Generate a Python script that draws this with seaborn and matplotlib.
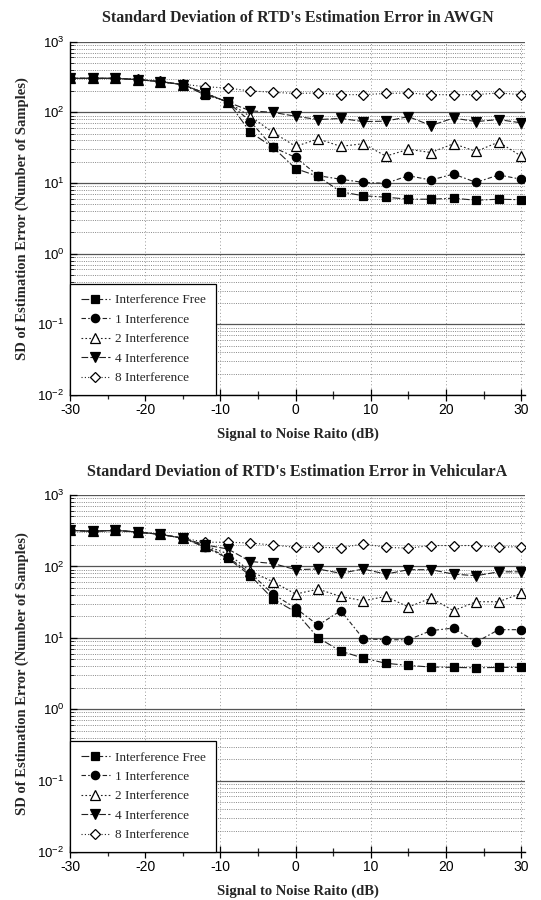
import numpy as np
import pandas as pd
import matplotlib
matplotlib.use("Agg")
import matplotlib.pyplot as plt
import seaborn as sns
from matplotlib.ticker import LogLocator, MultipleLocator, NullFormatter

snr = [-30, -27, -24, -21, -18, -15, -12, -9, -6, -3, 0, 3, 6, 9, 12, 15, 18, 21, 24, 27, 30]

series_names = ["Interference Free", "1 Interference", "2 Interference",
                "4 Interference", "8 Interference"]

# AWGN
awgn_free = [303, 303, 303, 290, 272, 246, 176, 142, 52, 32, 16, 12.4, 7.5, 6.6, 6.3, 5.9, 5.9, 6.1, 5.7, 5.9, 5.8]
awgn_1 = [303, 303, 303, 290, 272, 246, 186, 139, 74, 32, 23, 12.7, 11.3, 10.2, 9.9, 12.7, 11.0, 13.4, 10.2, 13.0, 11.3]
awgn_2 = [303, 303, 303, 290, 272, 246, 186, 139, 87, 52, 33, 42, 33, 36, 24, 30, 27, 36, 28, 38, 24]
awgn_4 = [303, 303, 303, 290, 272, 246, 186, 139, 105, 100, 88, 79, 82, 74, 75, 87, 65, 83, 74, 79, 71]
awgn_8 = [303, 303, 303, 295, 275, 249, 231, 220, 201, 192, 185, 188, 178, 178, 185, 188, 178, 178, 178, 188, 178]

# VehicularA
veh_free = [320, 310, 320, 303, 281, 249, 185, 130, 74, 35, 23, 10, 6.5, 5.2, 4.4, 4.1, 3.9, 3.85, 3.8, 3.85, 3.85]
veh_1 = [320, 310, 320, 303, 281, 249, 190, 134, 80, 41, 26, 15, 24, 9.7, 9.4, 9.4, 12.6, 13.7, 8.7, 13.0, 13.0]
veh_2 = [320, 310, 320, 303, 281, 249, 195, 150, 85, 61, 41, 48, 38, 33, 38, 27, 36, 24, 32, 32, 42]
veh_4 = [320, 310, 320, 303, 281, 249, 200, 175, 117, 110, 90, 92, 80, 92, 78, 90, 90, 78, 74, 84, 84]
veh_8 = [320, 310, 320, 303, 281, 249, 218, 218, 213, 199, 185, 185, 182, 207, 185, 180, 196, 196, 196, 185, 190]

titles = ["Standard Deviation of RTD's Estimation Error in AWGN",
          "Standard Deviation of RTD's Estimation Error in VehicularA"]
xlabel = "Signal to Noise Raito (dB)"
ylabel = "SD of Estimation Error (Number of Samples)"

sns.set_theme(style="white")
plt.rcParams['font.family'] = ['Liberation Sans', 'DejaVu Sans']
plt.rcParams['mathtext.fontset'] = 'custom'
plt.rcParams['mathtext.rm'] = 'Liberation Sans'
plt.rcParams['axes.unicode_minus'] = False

styles = {
    "Interference Free": dict(marker="s", ls=(0, (7, 2, 1.5, 2)), mfc="black", ms=6),
    "1 Interference": dict(marker="o", ls=(0, (4, 2, 1.5, 2)), mfc="black", ms=6),
    "2 Interference": dict(marker="^", ls=(0, (1.5, 2)), mfc="white", ms=6.5),
    "4 Interference": dict(marker="v", ls=(0, (6, 2)), mfc="black", ms=6.5),
    "8 Interference": dict(marker="D", ls=(0, (1, 2)), mfc="white", ms=5.5),
}

fig = plt.figure(figsize=(5.41, 9.0), dpi=100)
axes_pos = [[0.1294, 0.5611, 0.841, 0.3926], [0.1294, 0.0533, 0.841, 0.3967]]
datasets = [[awgn_free, awgn_1, awgn_2, awgn_4, awgn_8],
            [veh_free, veh_1, veh_2, veh_4, veh_8]]

serif = ['Liberation Serif', 'DejaVu Serif']

for pos, data, title in zip(axes_pos, datasets, titles):
    ax = fig.add_axes(pos)
    frames = []
    for name, vals in zip(series_names, data):
        frames.append(pd.DataFrame({"snr": snr, "sd": vals, "series": name}))
    df = pd.concat(frames, ignore_index=True)
    for name in series_names[::-1]:
        st = styles[name]
        sub = df[df["series"] == name]
        sns.lineplot(data=sub, x="snr", y="sd", ax=ax, color="#222222",
                     linewidth=0.8, linestyle=st["ls"], marker=st["marker"],
                     markersize=st["ms"], markerfacecolor=st["mfc"],
                     markeredgecolor="black", markeredgewidth=0.9,
                     label=name, zorder=3)
    ax.set_yscale("log")
    ax.set_ylim(1e-2, 1e3)
    ax.set_xlim(-30, 30.5)
    ax.xaxis.set_major_locator(MultipleLocator(10))
    ax.xaxis.set_minor_locator(MultipleLocator(5))
    ax.yaxis.set_major_locator(LogLocator(base=10, numticks=10))
    ax.yaxis.set_minor_locator(LogLocator(base=10, subs=np.arange(2, 10), numticks=50))
    ax.yaxis.set_minor_formatter(NullFormatter())

    # grid
    ax.grid(False)
    ax.yaxis.grid(True, which="major", color="#555555", linewidth=0.9, linestyle="-", zorder=0)
    ax.yaxis.grid(True, which="minor", color="#888888", linewidth=0.7, linestyle=(0, (1, 1.3)), zorder=0)
    ax.xaxis.grid(True, which="major", color="#999999", linewidth=0.7, linestyle=(0, (1, 2.5)), zorder=0)
    ax.set_axisbelow(True)

    for s in ["top", "right"]:
        ax.spines[s].set_visible(False)
    for s in ["left", "bottom"]:
        ax.spines[s].set_color("black")
        ax.spines[s].set_linewidth(1.0)

    ax.tick_params(axis="x", which="major", direction="inout", length=9, width=0.9,
                   labelsize=10, pad=1, colors="black")
    ax.tick_params(axis="x", which="minor", direction="inout", length=6, width=0.9)
    ax.tick_params(axis="y", which="major", direction="in", length=5, width=0.9,
                   labelsize=9.5, pad=4, colors="black")
    ax.tick_params(axis="y", which="minor", direction="in", length=3, width=0.7)
    ax.tick_params(left=True, bottom=True, which="both")

    ax.set_title(title, fontsize=11.5, fontweight="bold", family=serif, pad=14)
    ax.set_xlabel(xlabel, fontsize=10.5, fontweight="bold", family=serif, labelpad=8)
    ax.set_ylabel(ylabel, fontsize=10.5, fontweight="bold", family=serif, labelpad=6)

    handles, labels = ax.get_legend_handles_labels()
    order = [labels.index(n) for n in series_names]
    leg = ax.legend([handles[i] for i in order], [labels[i] for i in order],
                    loc="lower left", borderaxespad=0, frameon=True, fancybox=False,
                    prop={"family": serif, "size": 9.5}, handlelength=2.2,
                    labelspacing=0.55, borderpad=0.8, handletextpad=0.4)
    leg.get_frame().set_edgecolor("black")
    leg.get_frame().set_linewidth(0.9)
    leg.get_frame().set_facecolor("white")
    leg.get_frame().set_alpha(1)
    leg.set_zorder(5)

fig.savefig("out.png", dpi=100)
